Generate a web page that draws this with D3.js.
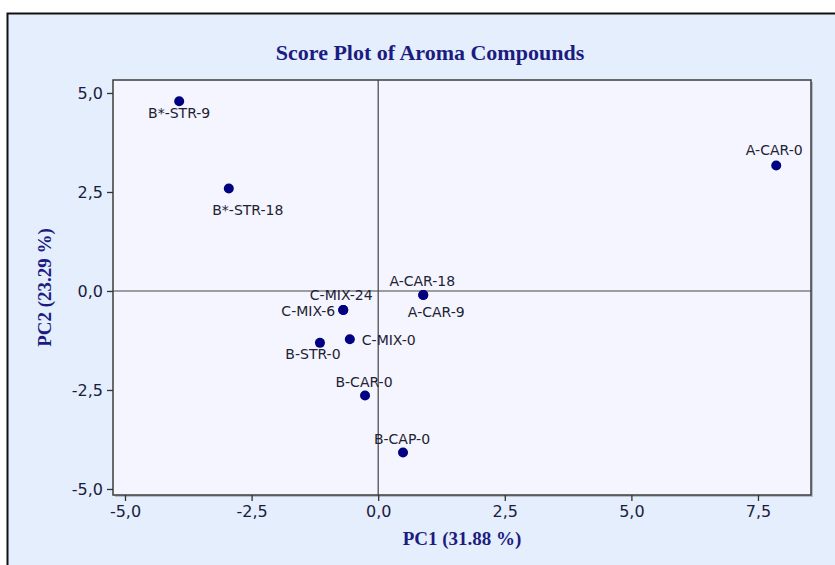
<!DOCTYPE html>
<html>
<head>
<meta charset="utf-8">
<script src="https://cdn.jsdelivr.net/npm/d3@7"></script>
<style>
  html, body { margin: 0; padding: 0; background: #ffffff; }
  svg { display: block; }
</style>
</head>
<body>
<svg id="chart" width="835" height="565"></svg>
<script>
// ---- Data ----
const sampleNames = ["B*-STR-9", "B*-STR-18", "A-CAR-0", "A-CAR-18", "A-CAR-9",
                     "C-MIX-24", "C-MIX-6", "C-MIX-0", "B-STR-0", "B-CAR-0", "B-CAP-0"];
const pc1Scores = [-3.93, -2.95, 7.86, 0.89, 0.89, -0.69, -0.69, -0.56, -1.15, -0.26, 0.49];
const pc2Scores = [4.79, 2.59, 3.17, -0.10, -0.10, -0.48, -0.48, -1.22, -1.31, -2.64, -4.08];
const xTickValues = [-5, -2.5, 0, 2.5, 5, 7.5];
const yTickValues = [-5, -2.5, 0, 2.5, 5];
const titleText = "Score Plot of Aroma Compounds";
const xAxisTitle = "PC1 (31.88 %)";
const yAxisTitle = "PC2 (23.29 %)";

// ---- Label placement (layout only) ----
const labelPlacement = {
  "B*-STR-9":  {anchor: "middle", dx: 0,   dy: 12},
  "B*-STR-18": {anchor: "middle", dx: 19,  dy: 22},
  "A-CAR-0":   {anchor: "middle", dx: -2,  dy: -15},
  "A-CAR-18":  {anchor: "middle", dx: -1,  dy: -14},
  "A-CAR-9":   {anchor: "middle", dx: 13,  dy: 17},
  "C-MIX-24":  {anchor: "middle", dx: -2,  dy: -15},
  "C-MIX-6":   {anchor: "end",    dx: -8,  dy: 1},
  "C-MIX-0":   {anchor: "start",  dx: 12,  dy: 1},
  "B-STR-0":   {anchor: "middle", dx: -7,  dy: 11},
  "B-CAR-0":   {anchor: "middle", dx: -1,  dy: -14},
  "B-CAP-0":   {anchor: "middle", dx: -1,  dy: -14}
};

const points = sampleNames.map((n, i) => ({name: n, x: pc1Scores[i], y: pc2Scores[i]}));

const svg = d3.select("#chart");
const plot = {left: 113, top: 80, right: 811, bottom: 495};

// outer panel
svg.append("rect")
  .attr("x", 7.5).attr("y", 13.5)
  .attr("width", 850).attr("height", 570)
  .attr("fill", "#E4EEFD")
  .attr("stroke", "#111").attr("stroke-width", 2);

// scales
const x = d3.scaleLinear().domain([-5.237, 8.547]).range([plot.left, plot.right]);
const y = d3.scaleLinear().domain([-5.152, 5.328]).range([plot.bottom, plot.top]);

// plot background + shadow
svg.append("rect")
  .attr("x", plot.left + 2).attr("y", plot.top + 2)
  .attr("width", plot.right - plot.left).attr("height", plot.bottom - plot.top)
  .attr("fill", "#B8BCC8");
svg.append("rect")
  .attr("x", plot.left).attr("y", plot.top)
  .attr("width", plot.right - plot.left).attr("height", plot.bottom - plot.top)
  .attr("fill", "#F4F5FE")
  .attr("stroke", "#3C3C3C").attr("stroke-width", 1.5);

// zero lines
svg.append("line")
  .attr("x1", plot.left).attr("x2", plot.right)
  .attr("y1", y(0)).attr("y2", y(0))
  .attr("stroke", "#444").attr("stroke-width", 1.2);
svg.append("line")
  .attr("x1", x(0)).attr("x2", x(0))
  .attr("y1", plot.top).attr("y2", plot.bottom)
  .attr("stroke", "#444").attr("stroke-width", 1.2);

const fmt = d => d3.format(".1f")(d).replace(".", ",").replace("−", "-");

// axes
const xAxis = svg.append("g")
  .attr("transform", `translate(0,${plot.bottom})`)
  .call(d3.axisBottom(x).tickValues(xTickValues).tickFormat(fmt).tickSize(6).tickPadding(5));
const yAxis = svg.append("g")
  .attr("transform", `translate(${plot.left},0)`)
  .call(d3.axisLeft(y).tickValues(yTickValues).tickFormat(fmt).tickSize(6).tickPadding(4));
[xAxis, yAxis].forEach(g => {
  g.select(".domain").remove();
  g.selectAll(".tick line").attr("stroke", "#333").attr("stroke-width", 1.3);
  g.selectAll(".tick text")
    .attr("fill", "#1c1c3c")
    .style("font-family", "'DejaVu Sans', Verdana, sans-serif")
    .style("font-size", "16px");
});

// points
svg.append("g").selectAll("circle")
  .data(points)
  .join("circle")
  .attr("cx", d => x(d.x))
  .attr("cy", d => y(d.y))
  .attr("r", 5)
  .attr("fill", "#000080");

// labels
svg.append("g").selectAll("text")
  .data(points)
  .join("text")
  .attr("x", d => x(d.x) + labelPlacement[d.name].dx)
  .attr("y", d => y(d.y) + labelPlacement[d.name].dy + 5)
  .attr("text-anchor", d => labelPlacement[d.name].anchor)
  .attr("fill", "#222233")
  .style("font-family", "'DejaVu Sans', Verdana, sans-serif")
  .style("font-size", "14px")
  .text(d => d.name);

// title
svg.append("text")
  .attr("x", 430).attr("y", 60)
  .attr("text-anchor", "middle")
  .attr("fill", "#1C1C80")
  .style("font-family", "'Liberation Serif', 'Times New Roman', serif")
  .style("font-weight", "bold")
  .style("font-size", "22px")
  .text(titleText);

// axis titles
svg.append("text")
  .attr("x", (plot.left + plot.right) / 2).attr("y", 545)
  .attr("text-anchor", "middle")
  .attr("fill", "#1C1C80")
  .style("font-family", "'Liberation Serif', 'Times New Roman', serif")
  .style("font-weight", "bold")
  .style("font-size", "19px")
  .text(xAxisTitle);
svg.append("text")
  .attr("transform", `translate(51,${(plot.top + plot.bottom) / 2}) rotate(-90)`)
  .attr("text-anchor", "middle")
  .attr("fill", "#1C1C80")
  .style("font-family", "'Liberation Serif', 'Times New Roman', serif")
  .style("font-weight", "bold")
  .style("font-size", "19px")
  .text(yAxisTitle);
</script>
</body>
</html>
